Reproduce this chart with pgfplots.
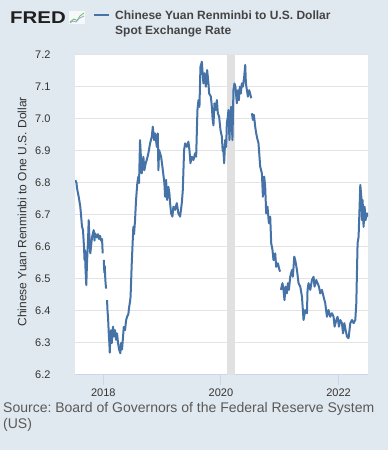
\documentclass[border=0pt]{standalone}
\usepackage{fontspec}
\setmainfont{Liberation Sans}
\usepackage{graphicx}
\usepackage{pgfplots}
\pgfplotsset{compat=1.18}
\definecolor{fredbg}{HTML}{E1E9F0}
\definecolor{fredline}{HTML}{4572A7}
\definecolor{gridc}{HTML}{E3E3E3}
\definecolor{axisc}{HTML}{CCD6EB}
\definecolor{recc}{HTML}{E1E1E1}
\definecolor{txt}{HTML}{333333}
\definecolor{ttl}{HTML}{444444}
\definecolor{srcc}{HTML}{595959}
\frenchspacing
\begin{document}
\begin{tikzpicture}[x=1pt,y=1pt]
\fill[fredbg] (0,0) rectangle (388,450);
\useasboundingbox (0,0) rectangle (388,450);
% FRED logo
\node[anchor=base west, inner sep=0, text=black!88] at (10,426) {\fontsize{17}{17}\selectfont\scalebox{1.2}[1]{\bfseries FRED}};
\fill[white!70!fredbg] (69,426) rectangle (85,439);
\draw[green!55!black!60, line width=0.8] (70,428) -- (74,431) -- (77,429.5) -- (80,434) -- (84,437);
\draw[fredline!60, line width=0.8] (70,427) -- (73,429) -- (76,428) -- (79,431.5) -- (84,434);
% legend + title
\draw[fredline, line width=2] (94.3,434.7) -- (109.3,434.7);
\node[anchor=base west, inner sep=0, text=ttl] at (115,430) {\fontsize{12}{14}\selectfont\bfseries Chinese Yuan Renminbi to U.S. Dollar};
\node[anchor=base west, inner sep=0, text=ttl] at (115,415.7) {\fontsize{12}{14}\selectfont\bfseries Spot Exchange Rate};
% source
\node[anchor=base west, inner sep=0, text=srcc] at (3,37.3) {\fontsize{14}{16}\selectfont Source: Board of Governors of the Federal Reserve System};
\node[anchor=base west, inner sep=0, text=srcc] at (3,21.8) {\fontsize{14}{16}\selectfont (US)};
\begin{axis}[
  at={(75pt,75pt)}, anchor=south west,
  scale only axis, width=293pt, height=320pt,
  xmin=2017.518, xmax=2022.50, ymin=6.2, ymax=7.2,
  axis background/.style={fill=white},
  axis x line*=bottom, axis y line*=left,
  x axis line style={draw=axisc, line width=1pt, -},
  y axis line style={draw=none},
  xtick={2018,2020,2022},
  xticklabels={2018,2020,2022},
  ytick={6.2,6.3,6.4,6.5,6.6,6.7,6.8,6.9,7.0,7.1,7.2},
  yticklabels={6.2,6.3,6.4,6.5,6.6,6.7,6.8,6.9,7.0,7.1,7.2},
  xtick style={draw=axisc, line width=1pt},
  ytick style={draw=none},
  tick align=outside,
  xtick pos=bottom,
  major tick length=10pt,
  ymajorgrids, grid style={draw=gridc, line width=1pt},
  tick label style={font=\fontsize{11}{13}\selectfont, text=txt},
  xticklabel style={yshift=0pt},
  yticklabel style={anchor=east, xshift=-11pt},
  ylabel={Chinese Yuan Renminbi to One U.S. Dollar},
  ylabel style={at={(axis description cs:-0.181,0.51)}, anchor=center, font=\fontsize{12}{14}\selectfont, text=txt},
  unbounded coords=jump,
  clip=true,
]
\addplot[draw=none, fill=recc] coordinates {(2020.097,6.2) (2020.097,7.2) (2020.243,7.2) (2020.243,6.2)} -- cycle;
\addplot[fredline, line width=2pt, line join=round] table {
x y
2017.523 6.809
2017.544 6.800
2017.552 6.784
2017.581 6.757
2017.608 6.726
2017.625 6.690
2017.637 6.664
2017.654 6.653
2017.671 6.600
2017.680 6.559
2017.688 6.590
2017.697 6.530
2017.710 6.481
2017.722 6.550
2017.739 6.620
2017.751 6.684
2017.765 6.620
2017.778 6.580
2017.790 6.600
2017.807 6.630
2017.836 6.653
2017.850 6.620
2017.858 6.643
2017.887 6.630
2017.909 6.640
2017.927 6.625
2017.944 6.635
2017.961 6.620
2017.978 6.625
2017.989 6.580
2017.998 nan
2018.007 6.560
2018.017 6.520
2018.024 6.540
2018.034 6.497
2018.046 6.470
2018.055 nan
2018.063 6.434
2018.071 6.400
2018.080 6.380
2018.092 6.330
2018.102 6.300
2018.109 6.270
2018.119 6.320
2018.131 6.340
2018.143 6.300
2018.153 6.330
2018.165 6.351
2018.182 6.320
2018.199 6.340
2018.216 6.310
2018.233 6.330
2018.250 6.300
2018.267 6.280
2018.289 6.268
2018.301 6.300
2018.318 6.280
2018.335 6.320
2018.347 6.350
2018.369 6.340
2018.386 6.370
2018.403 6.382
2018.425 6.390
2018.437 6.410
2018.454 6.430
2018.463 6.445
2018.483 6.549
2018.510 6.663
2018.522 6.640
2018.539 6.684
2018.556 6.747
2018.578 6.800
2018.595 6.820
2018.607 6.800
2018.624 6.934
2018.653 6.830
2018.681 6.882
2018.698 6.840
2018.718 6.860
2018.738 6.872
2018.766 6.893
2018.795 6.924
2018.824 6.945
2018.841 6.976
2018.863 6.934
2018.880 6.955
2018.909 6.913
2018.926 6.955
2018.936 6.840
2018.948 6.903
2018.982 6.882
2019.004 6.851
2019.038 6.800
2019.050 6.757
2019.067 6.810
2019.084 6.747
2019.106 6.788
2019.123 6.768
2019.135 6.737
2019.152 6.705
2019.174 6.695
2019.191 6.726
2019.220 6.716
2019.249 6.737
2019.276 6.705
2019.305 6.695
2019.334 6.737
2019.351 6.778
2019.373 6.903
2019.390 6.924
2019.419 6.913
2019.446 6.929
2019.464 6.903
2019.481 6.862
2019.504 6.882
2019.532 6.872
2019.561 6.893
2019.578 6.882
2019.600 7.028
2019.617 7.059
2019.634 7.038
2019.651 7.163
2019.675 7.179
2019.692 7.132
2019.702 7.111
2019.719 7.143
2019.743 7.101
2019.765 7.153
2019.787 7.111
2019.799 7.080
2019.828 7.070
2019.845 7.038
2019.858 7.000
2019.872 6.980
2019.889 7.049
2019.913 7.028
2019.930 7.059
2019.947 7.018
2019.969 7.007
2019.991 6.966
2020.015 6.945
2020.029 6.900
2020.037 6.913
2020.054 6.862
2020.071 6.934
2020.088 6.913
2020.100 6.987
2020.117 7.007
2020.127 7.028
2020.144 6.934
2020.161 7.018
2020.173 7.038
2020.195 6.934
2020.212 7.090
2020.229 7.111
2020.246 7.101
2020.270 7.049
2020.287 7.090
2020.304 7.059
2020.321 7.101
2020.338 7.080
2020.355 7.111
2020.372 7.101
2020.395 7.132
2020.412 7.169
2020.424 7.111
2020.441 7.090
2020.458 7.070
2020.480 7.090
2020.502 7.075
2020.514 7.065
2020.520 nan
2020.526 7.018
2020.543 6.997
2020.560 7.013
2020.582 6.976
2020.599 6.955
2020.616 6.940
2020.638 6.924
2020.667 6.851
2020.696 6.830
2020.713 6.757
2020.735 6.820
2020.752 6.788
2020.769 6.705
2020.791 6.726
2020.815 6.674
2020.837 6.695
2020.854 6.612
2020.876 6.591
2020.893 6.559
2020.922 6.580
2020.939 6.538
2020.968 6.549
2020.995 6.528
2021.007 6.523
2021.013 nan
2021.019 6.466
2021.046 6.487
2021.063 6.466
2021.080 6.434
2021.098 6.476
2021.121 6.455
2021.138 6.487
2021.155 6.466
2021.178 6.507
2021.206 6.528
2021.223 6.507
2021.246 6.570
2021.263 6.559
2021.292 6.528
2021.319 6.487
2021.348 6.476
2021.377 6.445
2021.404 6.372
2021.433 6.403
2021.462 6.393
2021.472 6.466
2021.489 6.487
2021.518 6.466
2021.547 6.497
2021.574 6.507
2021.591 6.476
2021.620 6.497
2021.642 6.487
2021.666 6.476
2021.688 6.455
2021.717 6.466
2021.744 6.445
2021.773 6.424
2021.802 6.382
2021.829 6.403
2021.858 6.382
2021.887 6.393
2021.915 6.382
2021.932 6.351
2021.961 6.372
2021.983 6.382
2022.006 6.351
2022.029 6.372
2022.057 6.362
2022.075 6.330
2022.097 6.362
2022.119 6.341
2022.143 6.320
2022.170 6.315
2022.199 6.362
2022.228 6.372
2022.255 6.362
2022.284 6.372
2022.301 6.424
2022.313 6.528
2022.323 6.612
2022.340 6.632
2022.357 6.726
2022.369 6.794
2022.386 6.757
2022.398 6.684
2022.408 6.747
2022.425 6.663
2022.442 6.726
2022.459 6.684
2022.483 6.705
2022.500 6.695
};
\end{axis}
\end{tikzpicture}
\end{document}
